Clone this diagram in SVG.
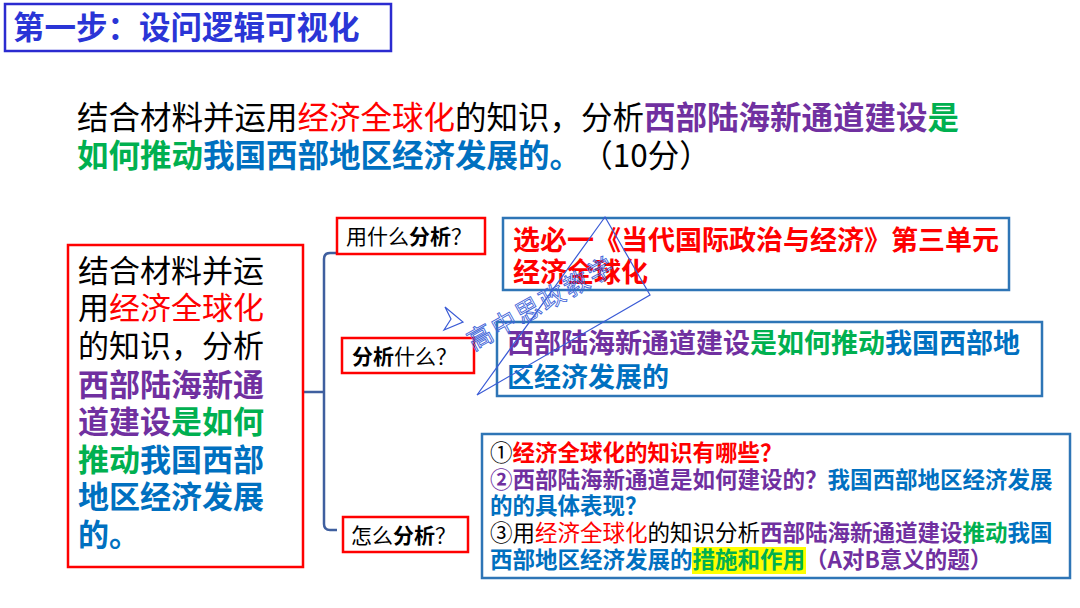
<svg xmlns="http://www.w3.org/2000/svg" width="1080" height="608" viewBox="0 0 1080 608">
<defs>
<style>
text{font-family:"Noto Sans CJK SC","Noto Sans",sans-serif;}
.b{font-weight:bold;}
.k{fill:#000000;}
.r{fill:#ff0000;}
.p{fill:#7030a0;}
.g{fill:#00b050;}
.u{fill:#0070c0;}
.redbox{fill:#ffffff;stroke:#ff0000;stroke-width:2.5;}
.bluebox{fill:#ffffff;stroke:#2e75b6;stroke-width:2.5;}
.lab{font-size:21px;}
.wm{fill:none;stroke:#3a5bd6;stroke-width:1.2;}
</style>
</defs>
<rect x="0" y="0" width="1080" height="608" fill="#ffffff"/>

<g id="title">
<rect x="5" y="4" width="386" height="47" fill="#ffffff" stroke="#2b2bd0" stroke-width="2.5"/>
<text x="13" y="39" font-size="31.5" font-weight="bold" fill="#2a35d6">第一步：设问逻辑可视化</text>
</g>

<g id="question">
<text x="77" y="129" font-size="31.5"><tspan class="k">结合材料并运用</tspan><tspan class="r">经济全球化</tspan><tspan class="k">的知识，分析</tspan><tspan class="p b">西部陆海新通道建设</tspan><tspan class="g b">是</tspan></text>
<text x="77" y="167" font-size="31.5"><tspan class="g b">如何推动</tspan><tspan class="u b">我国西部地区经济发展的。</tspan><tspan class="k" dx="16">（10分）</tspan></text>
</g>

<g id="connectors">
<path d="M303,392 H324 M337,253 H330 Q324,253 324,259 V524 Q324,530 330,530 H337" fill="none" stroke="#3f5f9f" stroke-width="2.5"/>
</g>

<g id="left-box">
<rect class="redbox" x="68" y="245" width="235" height="322"/>
<text font-size="31">
<tspan x="78" y="282" class="k">结合材料并运</tspan>
<tspan x="78" y="319" class="k">用</tspan><tspan class="r">经济全球化</tspan>
<tspan x="78" y="357" class="k">的知识，分析</tspan>
<tspan x="78" y="396" class="p b">西部陆海新通</tspan>
<tspan x="78" y="433" class="p b">道建设</tspan><tspan class="g b">是如何</tspan>
<tspan x="78" y="471" class="g b">推动</tspan><tspan class="u b">我国西部</tspan>
<tspan x="78" y="508" class="u b">地区经济发展</tspan>
<tspan x="78" y="546" class="u b">的。</tspan>
</text>
</g>

<g id="label-what-with">
<rect class="redbox" x="337" y="218" width="148" height="36"/>
<text x="346" y="244" class="lab k">用什么<tspan class="b">分析</tspan>？</text>
</g>

<g id="label-analyze-what">
<rect class="redbox" x="342" y="338" width="132" height="35"/>
<text x="352" y="364" class="lab k"><tspan class="b">分析</tspan>什么？</text>
</g>

<g id="label-how">
<rect class="redbox" x="343" y="517" width="125" height="35"/>
<text x="351" y="543" class="lab k">怎么<tspan class="b">分析</tspan>？</text>
</g>

<g id="answer-1">
<rect class="bluebox" x="503" y="218" width="506" height="72"/>
<text font-size="27" class="r b">
<tspan x="513" y="250">选必一《当代国际政治与经济》第三单元</tspan>
<tspan x="513" y="282">经济全球化</tspan>
</text>
</g>

<g id="answer-2">
<rect class="bluebox" x="497" y="322" width="545" height="74"/>
<text font-size="27" class="b">
<tspan x="507" y="353" class="p">西部陆海新通道建设</tspan><tspan class="g">是如何推动</tspan><tspan class="u">我国西部地</tspan>
<tspan x="507" y="387" class="u">区经济发展的</tspan>
</text>
</g>

<g id="answer-3">
<rect class="bluebox" x="482" y="434" width="588" height="144"/>
<rect x="692" y="547" width="114" height="27" fill="#ffff00"/>
<text font-size="22.5">
<tspan x="490" y="461" class="k">①</tspan><tspan class="r b">经济全球化的知识有哪些？</tspan>
<tspan x="490" y="488" class="p b">②西部陆海新通道是如何建设的？</tspan><tspan class="u b">我国西部地区经济发展</tspan>
<tspan x="490" y="514" class="u b">的的具体表现？</tspan>
<tspan x="490" y="541" class="k">③用</tspan><tspan class="r">经济全球化</tspan><tspan class="k">的知识分析</tspan><tspan class="p b">西部陆海新通道建设</tspan><tspan class="g b">推动</tspan><tspan class="u b">我国</tspan>
<tspan x="490" y="568" class="u b">西部地区经济发展的</tspan><tspan class="g b">措施和作用</tspan><tspan class="p b">（A对B意义的题）</tspan>
</text>
</g>

<g id="watermark">
<path class="wm" d="M605,217 L650,295 L477,395 Z"/>
<path class="wm" d="M445,307 L463,322 L444,330 L451,319 Z"/>
<text transform="translate(480,337) rotate(-29)" x="-12.5" y="9" font-size="25" fill="none" stroke="#3f66d9" stroke-width="0.9" letter-spacing="2.5">高中思政教学</text>
</g>
</svg>
